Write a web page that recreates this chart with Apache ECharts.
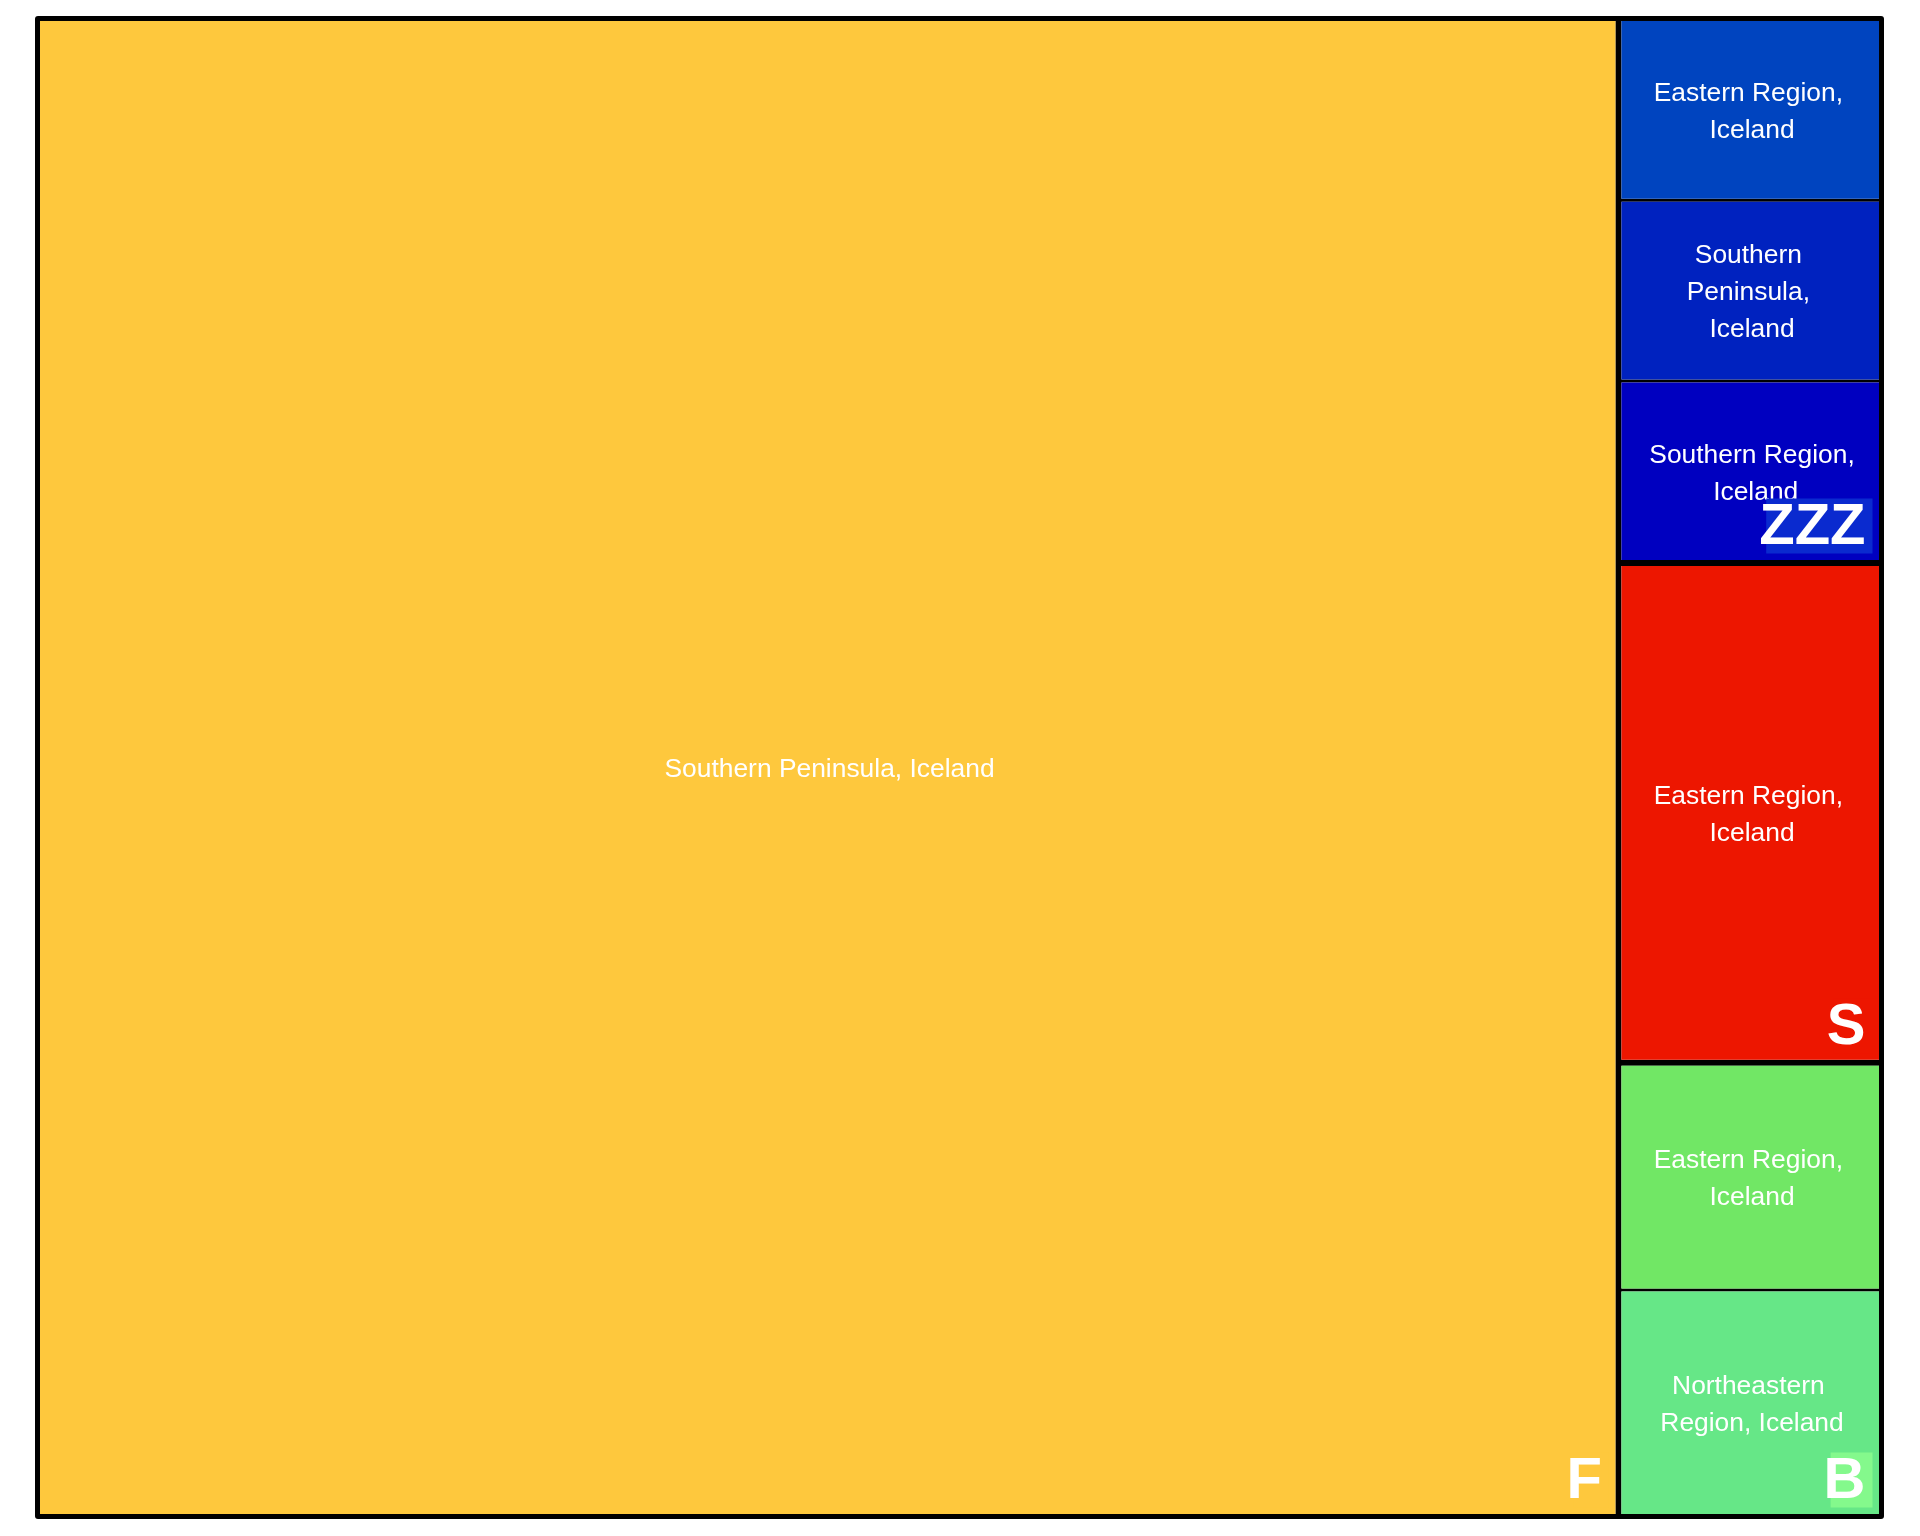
<!DOCTYPE html>
<html>
<head>
<meta charset="utf-8">
<script src="https://cdn.jsdelivr.net/npm/echarts@6/dist/echarts.min.js"></script>
<style>
html,body{margin:0;padding:0;background:#fff;}
#chart{width:1920px;height:1536px;}
</style>
</head>
<body>
<div id="chart"></div>
<script>
// ---- data ----
const groupNames = ['F', 'ZZZ', 'S', 'B'];
const groupBoxColors = ['#FEC83D', '#0A2ACF', '#ED1600', '#84F98C'];
const leafNames = [
  ['Southern Peninsula, Iceland'],
  ['Eastern Region, Iceland', 'Southern Peninsula, Iceland', 'Southern Region, Iceland'],
  ['Eastern Region, Iceland'],
  ['Eastern Region, Iceland', 'Northeastern Region, Iceland']
];
const leafValues = [
  [198],
  [4, 4, 4],
  [11],
  [5, 5]
];
const leafColors = [
  ['#FEC83D'],
  ['#0044BF', '#0022BF', '#0000C0'],
  ['#ED1600'],
  ['#71E765', '#66E787']
];

const FONT = '"Liberation Sans", Arial, Helvetica, sans-serif';

const mainData = groupNames.map((g, gi) => ({
  name: g,
  children: leafNames[gi].map((n, li) => ({
    name: n,
    value: leafValues[gi][li],
    itemStyle: { color: leafColors[gi][li] }
  }))
}));
const groupData = groupNames.map((g, gi) => ({
  name: g,
  value: leafValues[gi].reduce((a, b) => a + b, 0)
}));

const box = { left: 35, top: 16, width: 1849, height: 1503 };

const chart = echarts.init(document.getElementById('chart'), null, { renderer: 'canvas' });
const option = {
  animation: false,
  backgroundColor: '#ffffff',
  series: [
    {
      type: 'treemap',
      z: 1,
      left: box.left, top: box.top, width: box.width, height: box.height,
      roam: false, nodeClick: false, breadcrumb: { show: false },
      squareRatio: 1,
      sort: false,
      levels: [
        { itemStyle: { borderColor: '#000', borderWidth: 5, gapWidth: 6, borderRadius: 3 } },
        { itemStyle: { borderColor: '#000', borderWidth: 0, gapWidth: 3 } },
        {
          itemStyle: { borderWidth: 0 },
          label: {
            show: true, position: 'inside', align: 'center', verticalAlign: 'middle',
            offset: [0, 2.5],
            color: '#ffffff', fontFamily: FONT, fontSize: 26.4, lineHeight: 37,
            overflow: 'break', padding: [0, 21.2, 0, 24.8]
          }
        }
      ],
      data: mainData
    },
    {
      type: 'treemap',
      z: 3,
      silent: true,
      left: box.left, top: box.top, width: box.width, height: box.height,
      roam: false, nodeClick: false, breadcrumb: { show: false },
      squareRatio: 1,
      sort: false,
      levels: [
        { itemStyle: { borderColor: 'transparent', color: 'transparent', borderWidth: 5, gapWidth: 6 } },
        {
          itemStyle: { color: 'transparent', borderColor: 'transparent', borderWidth: 0 },
          label: {
            show: true, position: 'insideBottomRight', distance: 0,
            color: '#ffffff', fontFamily: FONT, fontSize: 58, fontWeight: 'bold', lineHeight: 58,
            padding: [0, 13.5, 3, 0], overflow: 'none'
          }
        }
      ],
      data: groupData
    }
  ]
};
chart.setOption(option);

function measure(text) {
  const c = document.createElement('canvas').getContext('2d');
  c.font = 'bold 58px ' + FONT;
  return c.measureText(text).width;
}

try {
  const sm = chart.getModel().getSeriesByIndex(1);
  const info = sm.layoutInfo;
  const root = sm.getData().tree.root;
  const rl = root.getLayout() || { x: 0, y: 0 };
  const els = [];
  root.children.forEach((node) => {
    const l = node.getLayout();
    const gi = groupNames.indexOf(node.name);
    const R = info.x + (rl.x || 0) + l.x + l.width;
    const B = info.y + (rl.y || 0) + l.y + l.height;
    const w = measure(node.name);
    els.push({
      type: 'rect', z: 2, silent: true,
      shape: { x: R - 6.5 - w, y: B - 6.5 - 55, width: w, height: 55 },
      style: { fill: groupBoxColors[gi] }
    });
  });
  chart.setOption({ graphic: { elements: els } });
} catch (e) {
  console.log(e);
}
</script>
</body>
</html>
